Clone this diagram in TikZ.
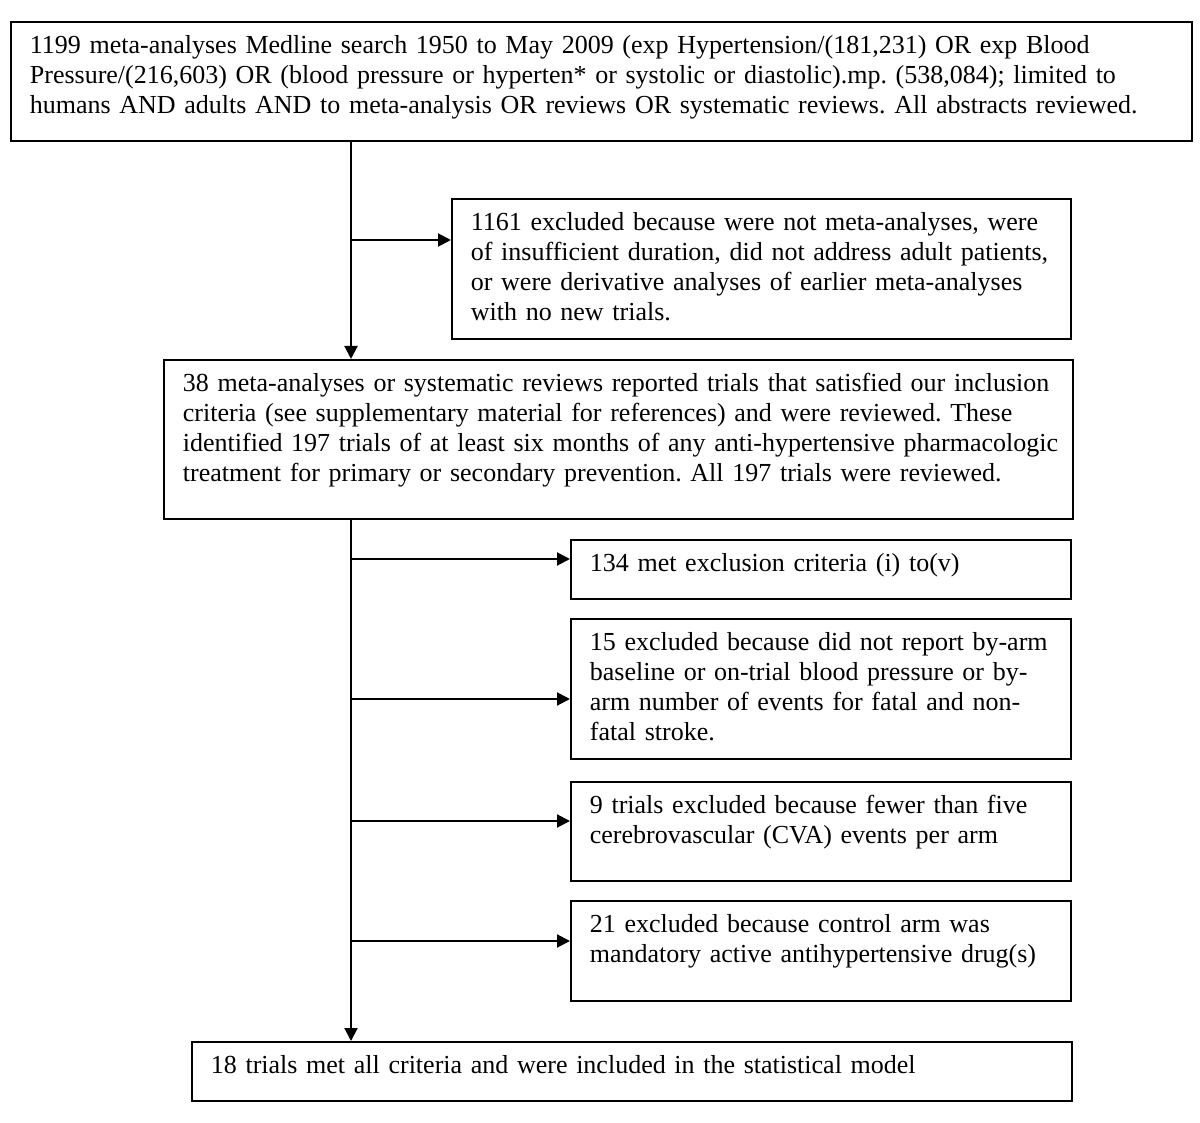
\documentclass[tikz,border=0pt]{standalone}
\usepackage{fontspec}
\setmainfont{Liberation Serif}
\usetikzlibrary{arrows.meta}
\frenchspacing

% linhas fixas, sem quebra automatica
\newcommand{\linhas}[1]{\begin{tabular}[t]{@{}l@{}}#1\end{tabular}}

\begin{document}
\begin{tikzpicture}[x=0.5pt, y=-0.5pt,
	caixa/.style={draw, line width=0.9pt, anchor=north west, align=left,
		inner xsep=9.5pt, inner ysep=0pt, text height=16pt,
		font=\fontsize{13}{15}\selectfont},
	seta/.style={line width=1pt, -{Triangle[length=6.5pt, width=6.5pt]}}]

	\useasboundingbox (0,0) rectangle (1200,1123);

	% Busca inicial

	\node[caixa, text width=571.5pt, text depth=43.5pt] (busca) at (10,21) {\linhas{1199 meta-analyses Medline search 1950 to May 2009 (exp Hypertension/(181,231) OR exp Blood\\
	Pressure/(216,603) OR (blood pressure or hyperten* or systolic or diastolic).mp. (538,084); limited to\\
	humans AND adults AND to meta-analysis OR reviews OR systematic reviews. All abstracts reviewed.}};

	\node[caixa, text width=290.5pt, text depth=54pt] (excl1) at (451,198) {\linhas{1161 excluded because were not meta-analyses, were\\
	of insufficient duration, did not address adult patients,\\
	or were derivative analyses of earlier meta-analyses\\
	with no new trials.}};

	% Revisoes

	\node[caixa, text width=435.5pt, text depth=63.5pt] (revisoes) at (163,359) {\linhas{38 meta-analyses or systematic reviews reported trials that satisfied our inclusion\\
	criteria (see supplementary material for references) and were reviewed. These\\
	identified 197 trials of at least six months of any anti-hypertensive pharmacologic\\
	treatment for primary or secondary prevention. All 197 trials were reviewed.}};

	% Exclusoes

	\node[caixa, text width=231pt, text depth=13.5pt] (exclA) at (570,539) {\linhas{134 met exclusion criteria (i) to(v)}};

	\node[caixa, text width=231pt, text depth=54pt] (exclB) at (570,618) {\linhas{15 excluded because did not report by-arm\\
	baseline or on-trial blood pressure or by-\\
	arm number of events for fatal and non-\\
	fatal stroke.}};

	\node[caixa, text width=231pt, text depth=33.5pt] (exclC) at (570,781) {\linhas{9 trials excluded because fewer than five\\
	cerebrovascular (CVA) events per arm}};

	\node[caixa, text width=231pt, text depth=34pt] (exclD) at (570,900) {\linhas{21 excluded because control arm was\\
	mandatory active antihypertensive drug(s)}};

	% Resultado final

	\node[caixa, text width=421pt, text depth=13.5pt] (final) at (191,1041) {\linhas{18 trials met all criteria and were included in the statistical model}};

	% Setas

	\coordinate (eixo) at (351,0);

	\draw[seta] (eixo |- busca.south) -- (eixo |- revisoes.north);

	\draw[seta] (eixo |- 0,240) -- (excl1.west |- 0,240);

	\draw[seta] (eixo |- revisoes.south) -- (eixo |- final.north);

	\draw[seta] (eixo |- 0,559) -- (exclA.west |- 0,559);

	\draw[seta] (eixo |- 0,699) -- (exclB.west |- 0,699);

	\draw[seta] (eixo |- 0,821) -- (exclC.west |- 0,821);

	\draw[seta] (eixo |- 0,941) -- (exclD.west |- 0,941);

\end{tikzpicture}
\end{document}
